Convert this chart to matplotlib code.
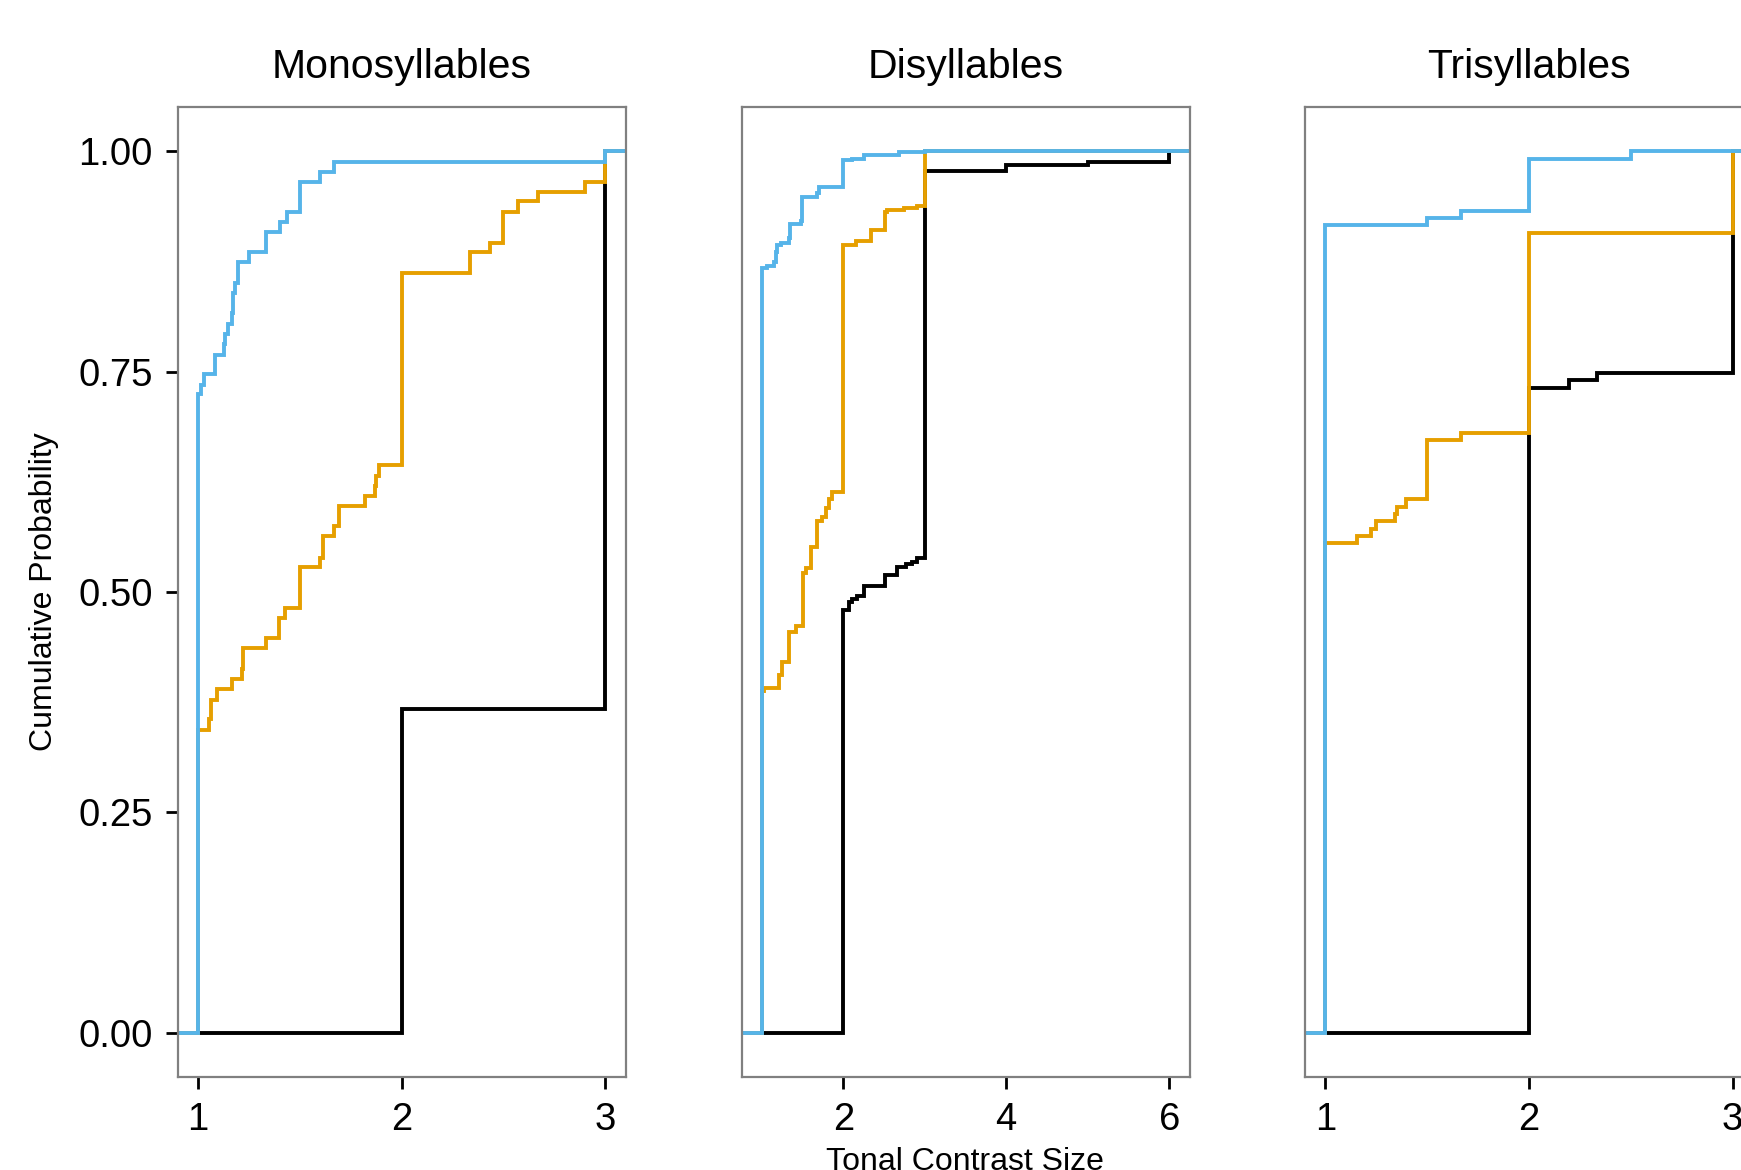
import matplotlib
matplotlib.use("Agg")
import matplotlib.pyplot as plt

plt.rcParams['font.family'] = ['Liberation Sans', 'DejaVu Sans']

# colours (black, orange, blue)
col_black = "#000000"
col_orange = "#E69F00"
col_blue = "#56B4E9"

panel_titles = ["Monosyllables", "Disyllables", "Trisyllables"]
panel_xticks = [[1, 2, 3], [2, 4, 6], [1, 2, 3]]
panel_xlims = [(0.9, 3.1), (0.75, 6.25), (0.9, 3.1)]
y_ticks = [0.0, 0.25, 0.5, 0.75, 1.0]
y_ticklabels = ["0.00", "0.25", "0.50", "0.75", "1.00"]

# step positions and cumulative probabilities
mono_black_x = [2.0, 3.0]
mono_black_y = [0.367, 1.0]
mono_orange_x = [1.0, 1.057, 1.064, 1.093, 1.170, 1.216, 1.220, 1.335, 1.400, 1.428,
                 1.501, 1.602, 1.616, 1.668, 1.694, 1.820, 1.869, 1.877, 1.888, 2.0,
                 2.334, 2.437, 2.497, 2.571, 2.669, 2.900, 3.0]
mono_orange_y = [0.344, 0.356, 0.378, 0.390, 0.401, 0.413, 0.436, 0.448, 0.470, 0.482,
                 0.528, 0.539, 0.563, 0.575, 0.597, 0.609, 0.620, 0.632, 0.644, 0.862,
                 0.885, 0.896, 0.931, 0.943, 0.954, 0.965, 1.0]
mono_blue_x = [1.0, 1.016, 1.028, 1.082, 1.126, 1.135, 1.150, 1.167, 1.172, 1.183,
               1.199, 1.251, 1.335, 1.403, 1.439, 1.501, 1.602, 1.669, 3.0]
mono_blue_y = [0.724, 0.735, 0.747, 0.769, 0.781, 0.793, 0.804, 0.816, 0.839, 0.850,
               0.874, 0.885, 0.908, 0.920, 0.931, 0.965, 0.976, 0.988, 1.0]

di_black_x = [2.0, 2.070, 2.111, 2.172, 2.254, 2.508, 2.664, 2.766, 2.848, 2.910,
              3.0, 4.0, 5.0, 6.0]
di_black_y = [0.480, 0.489, 0.492, 0.496, 0.507, 0.519, 0.528, 0.532, 0.534, 0.538,
              0.977, 0.984, 0.988, 1.0]
di_orange_x = [1.0, 1.03, 1.209, 1.250, 1.332, 1.414, 1.508, 1.537, 1.598, 1.672,
               1.742, 1.783, 1.824, 1.865, 2.0, 2.152, 2.336, 2.508, 2.541, 2.746,
               2.910, 3.0]
di_orange_y = [0.388, 0.391, 0.406, 0.421, 0.455, 0.462, 0.522, 0.527, 0.551, 0.581,
               0.585, 0.595, 0.605, 0.613, 0.894, 0.898, 0.911, 0.931, 0.933, 0.936,
               0.938, 1.0]
di_blue_x = [1.0, 1.066, 1.148, 1.168, 1.189, 1.230, 1.332, 1.344, 1.475, 1.496,
             1.680, 1.701, 2.0, 2.111, 2.254, 2.684, 3.0]
di_blue_y = [0.867, 0.870, 0.874, 0.885, 0.893, 0.896, 0.902, 0.917, 0.921, 0.948,
             0.952, 0.959, 0.990, 0.991, 0.995, 0.999, 1.0]

tri_black_x = [2.0, 2.198, 2.332, 3.0]
tri_black_y = [0.731, 0.740, 0.748, 1.0]
tri_orange_x = [1.0, 1.153, 1.222, 1.251, 1.340, 1.353, 1.398, 1.5, 1.666, 2.0, 3.0]
tri_orange_y = [0.555, 0.563, 0.571, 0.580, 0.588, 0.596, 0.605, 0.672, 0.680, 0.907, 1.0]
tri_blue_x = [1.0, 1.5, 1.666, 2.0, 2.499]
tri_blue_y = [0.916, 0.924, 0.932, 0.991, 1.0]

panel_series = [
    [(mono_black_x, mono_black_y, col_black), (mono_orange_x, mono_orange_y, col_orange),
     (mono_blue_x, mono_blue_y, col_blue)],
    [(di_black_x, di_black_y, col_black), (di_orange_x, di_orange_y, col_orange),
     (di_blue_x, di_blue_y, col_blue)],
    [(tri_black_x, tri_black_y, col_black), (tri_orange_x, tri_orange_y, col_orange),
     (tri_blue_x, tri_blue_y, col_blue)],
]

W, H = 1741, 1170
fig = plt.figure(figsize=(W / 100, H / 100), dpi=100)

panel_lefts = [177.5, 741.5, 1305.0]
panel_w = 448.0
panel_top, panel_bottom = 107.0, 1077.0

for i in range(3):
    ax = fig.add_axes([panel_lefts[i] / W, 1 - panel_bottom / H,
                       panel_w / W, (panel_bottom - panel_top) / H])
    lo, hi = panel_xlims[i]
    for xs, ys, c in panel_series[i]:
        ax.step([lo] + xs + [hi], [0.0] + ys + [ys[-1]], where='post',
                color=c, linewidth=2.8, solid_joinstyle='miter')
    ax.set_xlim(lo, hi)
    ax.set_ylim(-0.05, 1.05)
    ax.set_xticks(panel_xticks[i])
    ax.set_xticklabels([str(t) for t in panel_xticks[i]])
    if i == 0:
        ax.set_yticks(y_ticks)
        ax.set_yticklabels(y_ticklabels)
    else:
        ax.set_yticks([])
    ax.tick_params(axis='both', length=8.8, width=2.0, pad=9, labelsize=27.5,
                   colors='black')
    for sp in ax.spines.values():
        sp.set_color('#808080')
        sp.set_linewidth(1.6)
    ax.set_title(panel_titles[i], fontsize=29.5, pad=21)

fig.text(44 / W, 1 - 592 / H, "Cumulative Probability", rotation=90,
         fontsize=23, ha='center', va='center')
fig.text(965 / W, 1 - 1170 / H, "Tonal Contrast Size", fontsize=23,
         ha='center', va='baseline')

fig.savefig("out.png", dpi=100)
